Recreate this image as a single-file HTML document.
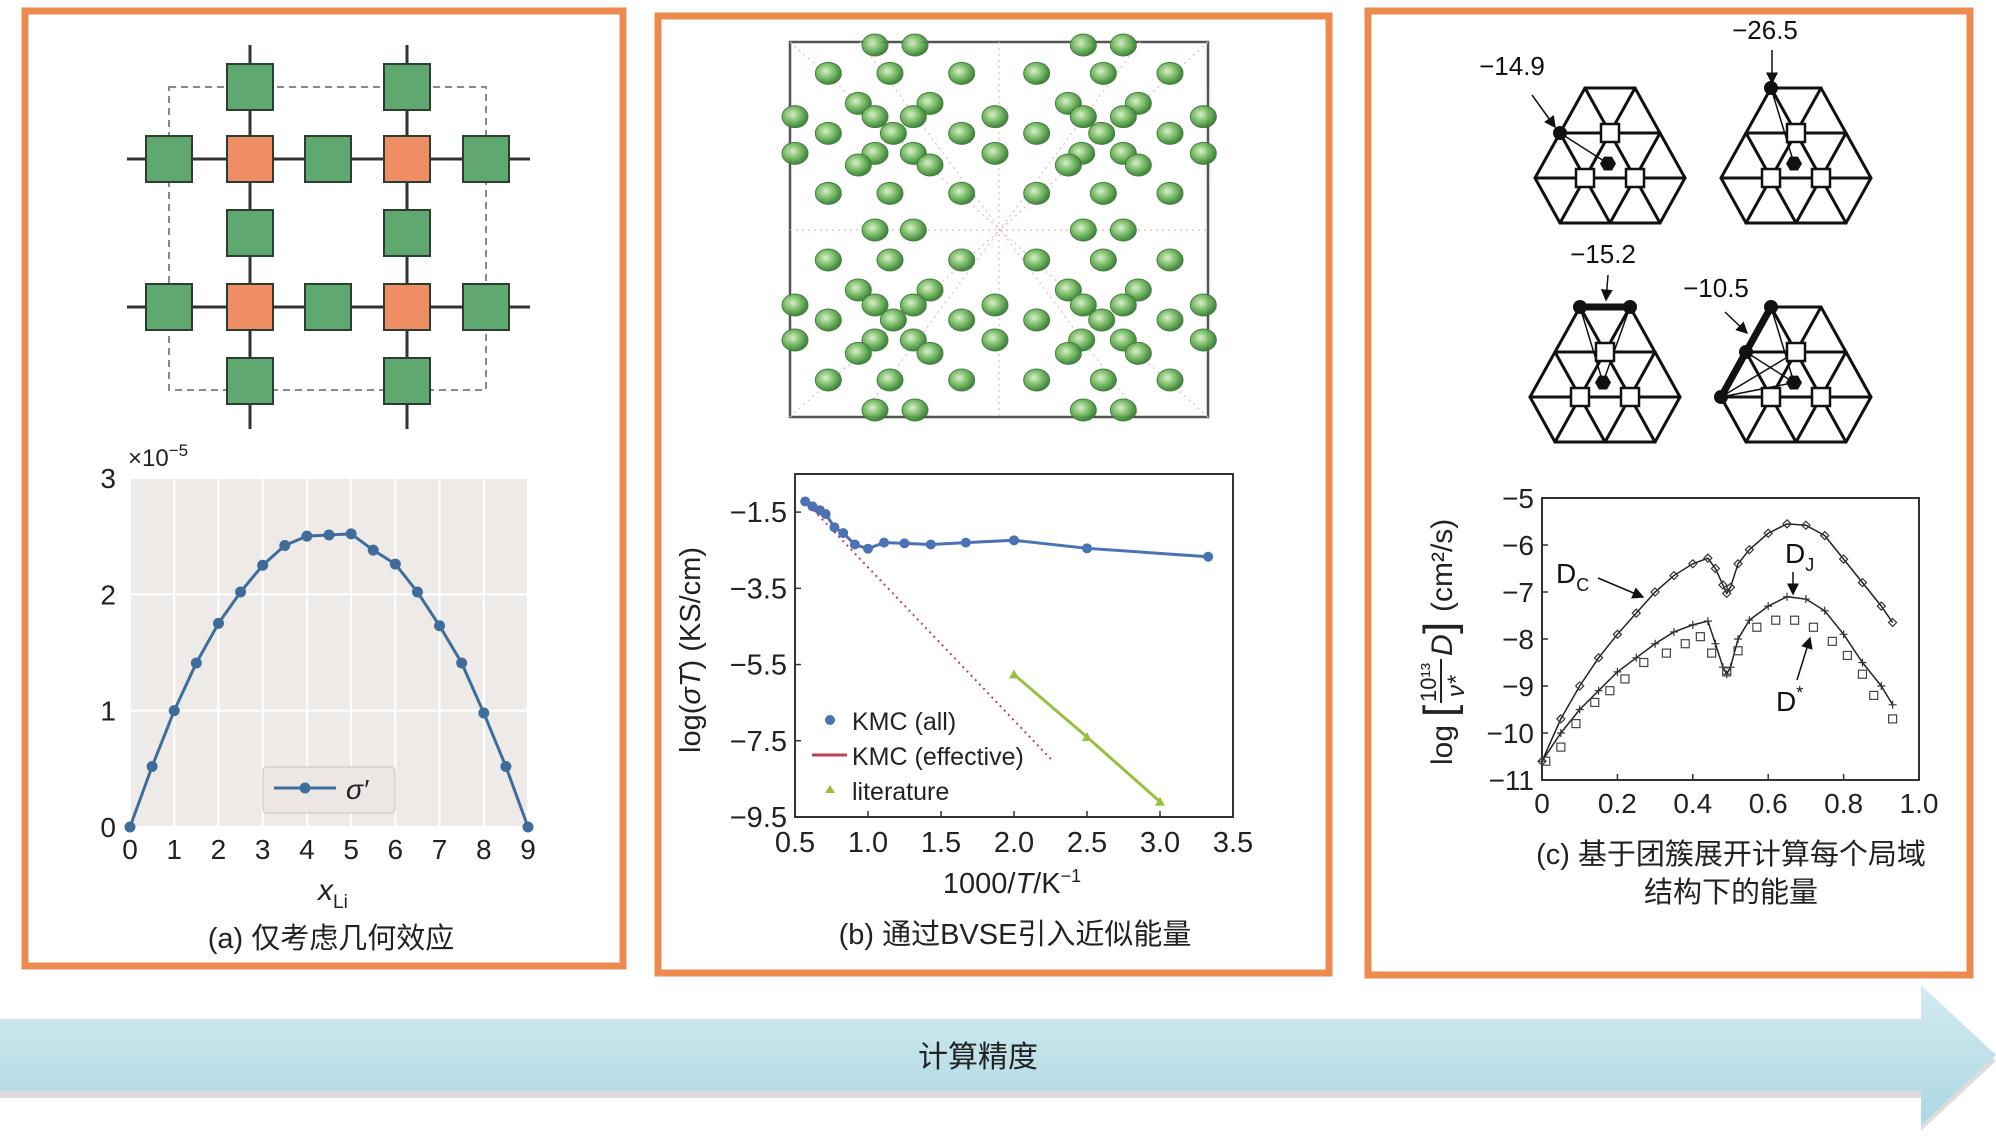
<!DOCTYPE html>
<html><head><meta charset="utf-8">
<style>
html,body{margin:0;padding:0;background:#fff;}
svg{display:block;}
text{font-family:"Liberation Sans","Noto Sans CJK SC",sans-serif;}
</style></head>
<body>
<svg id="root" width="1996" height="1138" viewBox="0 0 1996 1138" xmlns="http://www.w3.org/2000/svg">
<defs>
  <linearGradient id="band" x1="0" y1="0" x2="0" y2="1">
    <stop offset="0" stop-color="#d4ebf1"/><stop offset="1" stop-color="#acd7e2"/>
  </linearGradient>
  <radialGradient id="blob" cx="0.4" cy="0.4" r="0.6">
    <stop offset="0" stop-color="#d8efc8"/><stop offset="0.5" stop-color="#7dbd6a"/><stop offset="1" stop-color="#357f31"/>
  </radialGradient>
  <marker id="ah" markerWidth="8" markerHeight="8" refX="7" refY="4" orient="auto"><path d="M0,0 L8,4 L0,8 z" fill="#111"/></marker>
</defs>

<rect x="25" y="11" width="598" height="955" fill="none" stroke="#ec8a4f" stroke-width="7"/>
<rect x="658" y="16" width="671" height="957" fill="none" stroke="#ec8a4f" stroke-width="7"/>
<rect x="1368" y="11" width="602" height="964" fill="none" stroke="#ec8a4f" stroke-width="7"/>

<g>
  <path d="M0,1022 L1921,1022 L1921,987 L1996,1057 L1921,1127 L1921,1094 L0,1094 Z" fill="#9a9a9a" opacity="0.35" transform="translate(0,4)"/>
  <path d="M0,1019 L1921,1019 L1921,985 L1996,1055 L1921,1125 L1921,1091 L0,1091 Z" fill="url(#band)"/>
  <text x="978" y="1067" font-size="30" text-anchor="middle" fill="#222">计算精度</text>
</g>

<g id="lattice"></g>
<g id="chartA"></g>
<text x="331" y="948" font-size="29" text-anchor="middle" fill="#222">(a) 仅考虑几何效应</text>

<g id="struct"></g>
<g id="chartB"></g>
<text x="1015" y="944" font-size="29" text-anchor="middle" fill="#222">(b) 通过BVSE引入近似能量</text>

<g id="hexes"></g>
<g id="chartC"></g>
<text x="1731" y="864" font-size="29" text-anchor="middle" fill="#222">(c) 基于团簇展开计算每个局域</text>
<text x="1731" y="902" font-size="29" text-anchor="middle" fill="#222">结构下的能量</text>
</svg>

<script>
const aX = [0,0.5,1,1.5,2,2.5,3,3.5,4,4.5,5,5.5,6,6.5,7,7.5,8,8.5,9];
const aY = [0,0.52,1.0,1.41,1.75,2.02,2.25,2.42,2.50,2.51,2.52,2.38,2.26,2.02,1.73,1.41,0.98,0.52,0];
const aXTicks = [0,1,2,3,4,5,6,7,8,9];
const aYTicks = [0,1,2,3];
const bAllX = [0.57,0.62,0.67,0.71,0.77,0.83,0.91,1.0,1.11,1.25,1.43,1.67,2.0,2.5,3.33];
const bAllY = [-1.22,-1.35,-1.45,-1.55,-1.9,-2.05,-2.35,-2.46,-2.3,-2.32,-2.35,-2.3,-2.24,-2.45,-2.67];
const bEffX = [0.57,2.27];
const bEffY = [-1.22,-8.05];
const bLitX = [2.0,2.5,3.0];
const bLitY = [-5.76,-7.4,-9.1];
const bXTicks = [0.5,1.0,1.5,2.0,2.5,3.0,3.5];
const bYTicks = [-1.5,-3.5,-5.5,-7.5,-9.5];
const cX  = [0,0.05,0.1,0.15,0.2,0.25,0.3,0.35,0.4,0.44,0.46,0.48,0.49,0.5,0.52,0.55,0.6,0.65,0.7,0.75,0.8,0.85,0.9,0.93];
const cDc = [-10.6,-9.7,-9.0,-8.4,-7.9,-7.45,-7.0,-6.65,-6.4,-6.28,-6.5,-6.85,-7.03,-6.9,-6.4,-6.1,-5.75,-5.55,-5.58,-5.8,-6.3,-6.8,-7.3,-7.65];
const cDj = [-10.6,-10.0,-9.5,-9.1,-8.7,-8.4,-8.1,-7.85,-7.7,-7.62,-8.1,-8.6,-8.75,-8.6,-8.0,-7.6,-7.3,-7.1,-7.15,-7.4,-7.9,-8.5,-9.0,-9.4];
const sX  = [0.01,0.05,0.09,0.14,0.18,0.22,0.27,0.33,0.38,0.42,0.45,0.49,0.52,0.57,0.62,0.67,0.72,0.77,0.81,0.85,0.88,0.93];
const sY  = [-10.6,-10.3,-9.8,-9.35,-9.1,-8.85,-8.5,-8.3,-8.1,-7.95,-8.3,-8.7,-8.25,-7.75,-7.6,-7.6,-7.75,-8.05,-8.35,-8.75,-9.2,-9.7];
const cXTicks = [0,0.2,0.4,0.6,0.8,1.0];
const cXLabels = ['0','0.2','0.4','0.6','0.8','1.0'];
const cYTicks = [-5,-6,-7,-8,-9,-10,-11];

const NS = 'http://www.w3.org/2000/svg';
function mk(parent, tag, attrs, txt){
  const e = document.createElementNS(NS, tag);
  for (const k in attrs) e.setAttribute(k, attrs[k]);
  if (txt !== undefined) e.textContent = txt;
  parent.appendChild(e);
  return e;
}
function lin(d0,d1,r0,r1){ return v => r0 + (v-d0)/(d1-d0)*(r1-r0); }

(function(){
  const g = document.getElementById('lattice');
  let e = mk(g,'rect',{x:169,y:87,width:317,height:303,fill:'none',stroke:'#8a8a8a','stroke-width':2,'stroke-dasharray':'7,5'});
  
  
  [159,307].forEach(y=>{ mk(g,'line',{x1:127,y1:y,x2:530,y2:y,stroke:'#333','stroke-width':3}); });
  [250,407].forEach(x=>{ mk(g,'line',{x1:x,y1:45,x2:x,y2:429,stroke:'#333','stroke-width':3}); });
  const sq = [];
  const xs=[169,250,328,407,486];
  [159,307].forEach(y=>{ xs.forEach((x,i)=>{ sq.push([x, y, i%2===1?'#ef8e64':'#5fa86f']); }); });
  [87,233,381].forEach(y=>{ [250,407].forEach(x=>sq.push([x,y,'#5fa86f'])); });
  sq.forEach(s=>{
    const r = mk(g,'rect',{x:s[0]-23,y:s[1]-23,width:46,height:46,fill:s[2],stroke:'#2d3d30','stroke-width':2});
    
    
  });
})();

(function(){
  const g = document.getElementById('chartA');
  const L=130,R=528,T=478,B=827;
  const sx = lin(0,9,L,R), sy = lin(0,3,B,T);
  mk(g,'rect',{x:L,y:T,width:R-L,height:B-T,fill:'#eeeae7'});
  aXTicks.forEach(v=>{ mk(g,'line',{x1:sx(v),y1:T,x2:sx(v),y2:B,stroke:'#fff','stroke-width':2}); });
  aYTicks.forEach(v=>{ mk(g,'line',{x1:L,y1:sy(v),x2:R,y2:sy(v),stroke:'#fff','stroke-width':2}); });
  aXTicks.forEach(v=>{
    const t = mk(g,'text',{x:sx(v),y:B+32,'font-size':28,'text-anchor':'middle',fill:'#222'}, String(v));
    
    
  });
  aYTicks.forEach(v=>{
    const t = mk(g,'text',{x:L-14,y:sy(v)+10,'font-size':28,'text-anchor':'end',fill:'#222'}, String(v));
    
    
  });
  const m = mk(g,'text',{x:128,y:466,'font-size':24,fill:'#222'});
  
  
  m.innerHTML = '×10<tspan dy="-10" font-size="17">−5</tspan>';
  const xl = mk(g,'text',{x:318,y:900,'font-size':30,'font-style':'italic',fill:'#222'});
  
  
  xl.innerHTML = 'x<tspan dy="8" font-size="19" font-style="normal">Li</tspan>';
  const pts = aX.map((x,i)=>sx(x)+','+sy(aY[i])).join(' ');
  const pl = mk(g,'polyline',{points:pts,fill:'none',stroke:'#3f6d9b','stroke-width':3});
  
  
  aX.forEach((x,i)=>{
    const c = mk(g,'circle',{cx:sx(x),cy:sy(aY[i]),r:5.5,fill:'#3f6d9b'});
    
    
  });
  const lg = mk(g,'g',{});
  
  
  mk(lg,'rect',{x:263,y:767,width:132,height:46,rx:4,fill:'#ece6e4',stroke:'#d6cfcc','stroke-width':1.5});
  mk(lg,'line',{x1:274,y1:788,x2:336,y2:788,stroke:'#3f6d9b','stroke-width':3});
  mk(lg,'circle',{cx:305,cy:788,r:5.5,fill:'#3f6d9b'});
  mk(lg,'text',{x:346,y:799,'font-size':28,'font-style':'italic',fill:'#222'},"σ′");
})();

(function(){
  const g = document.getElementById('struct');
  mk(g,'rect',{x:790,y:42,width:418,height:375,fill:'#fff',stroke:'#555','stroke-width':2.5});
  const dl = [[790,42,1000,230],[1208,42,1000,230],[790,417,1000,230],[1208,417,1000,230],[860,42,1140,417],[1140,42,860,417],[790,230,1208,230],[999,42,999,417]];
  dl.forEach(d=>mk(g,'line',{x1:d[0],y1:d[1],x2:d[2],y2:d[3],stroke:'#e7b9b9','stroke-width':1.2,'stroke-dasharray':'2,4'}));
  const rows = [
    [45,[285,405,910,1030]],
    [130,[145,330,545,770,970,1170]],
    [220,[235,450,865,1075]],
    [260,[45,285,400,645,910,1030,1270]],
    [310,[145,340,545,770,965,1170]],
    [370,[45,285,400,645,905,1030,1270]],
    [405,[235,450,865,1075]],
    [490,[145,330,545,770,970,1170]],
    [600,[285,400,910,1030]],
    [690,[145,330,545,770,970,1170]],
    [780,[235,450,865,1075]],
    [825,[45,285,400,645,910,1030,1270]],
    [870,[145,340,545,770,965,1170]],
    [930,[45,285,400,645,905,1030,1270]],
    [970,[235,450,865,1075]],
    [1050,[145,330,545,770,970,1170]],
    [1140,[285,405,910,1030]]
  ];
  rows.forEach(r=>r[1].forEach(x=>{
    const e = mk(g,'ellipse',{cx:x/3+780,cy:r[0]/3+30,rx:13,ry:11,fill:'url(#blob)',stroke:'#3d7a38','stroke-width':1,opacity:0.95});
    
    
  }));
})();

(function(){
  const g = document.getElementById('chartB');
  const L=795,R=1233,T=474,B=817;
  const sx = lin(0.5,3.5,L,R), sy = lin(-9.5,-0.5,B,T);
  mk(g,'rect',{x:L,y:T,width:R-L,height:B-T,fill:'#fff',stroke:'#333','stroke-width':2});
  bXTicks.forEach(v=>{
    mk(g,'line',{x1:sx(v),y1:B,x2:sx(v),y2:B-6,stroke:'#333','stroke-width':1.5});
    const t = mk(g,'text',{x:sx(v),y:B+35,'font-size':29,'text-anchor':'middle',fill:'#222'}, v.toFixed(1));
    
    
  });
  bYTicks.forEach(v=>{
    mk(g,'line',{x1:L,y1:sy(v),x2:L+6,y2:sy(v),stroke:'#333','stroke-width':1.5});
    const t = mk(g,'text',{x:L-8,y:sy(v)+10,'font-size':29,'text-anchor':'end',fill:'#222'}, '−'+Math.abs(v).toFixed(1));
    
    
  });
  const yl = mk(g,'text',{x:0,y:0,'font-size':29,'text-anchor':'middle',fill:'#222',transform:'translate(700,650) rotate(-90)'});
  
  
  yl.innerHTML = 'log(<tspan font-style="italic">σT</tspan>) (KS/cm)';
  const xl = mk(g,'text',{x:1012,y:893,'font-size':29,'text-anchor':'middle',fill:'#222'});
  
  
  xl.innerHTML = '1000/<tspan font-style="italic">T</tspan>/K<tspan dy="-11" font-size="18">−1</tspan>';
  const eff = mk(g,'line',{x1:sx(bEffX[0]),y1:sy(bEffY[0]),x2:sx(bEffX[1]),y2:sy(bEffY[1]),stroke:'#c0405a','stroke-width':2,'stroke-dasharray':'2,4'});
  
  
  const pa = mk(g,'polyline',{points:bAllX.map((x,i)=>sx(x)+','+sy(bAllY[i])).join(' '),fill:'none',stroke:'#4a72b5','stroke-width':3});
  
  
  bAllX.forEach((x,i)=>{
    const c = mk(g,'circle',{cx:sx(x),cy:sy(bAllY[i]),r:5,fill:'#4a72b5'});
    
    
  });
  const lt = mk(g,'polyline',{points:bLitX.map((x,i)=>sx(x)+','+sy(bLitY[i])).join(' '),fill:'none',stroke:'#9abf3f','stroke-width':3});
  
  
  bLitX.forEach((x,i)=>{
    const px=sx(x), py=sy(bLitY[i]);
    const p = mk(g,'path',{d:`M${px},${py-5} L${px+5},${py+4} L${px-5},${py+4} Z`,fill:'#9abf3f'});
    
    
  });
  const lg = mk(g,'g',{});
  
  
  mk(lg,'circle',{cx:830,cy:720,r:5,fill:'#4a72b5'});
  mk(lg,'text',{x:852,y:730,'font-size':25,fill:'#222'},'KMC (all)');
  mk(lg,'line',{x1:812,y1:755,x2:847,y2:755,stroke:'#c0405a','stroke-width':3});
  mk(lg,'text',{x:852,y:765,'font-size':25,fill:'#222'},'KMC (effective)');
  mk(lg,'path',{d:'M830,785 L835,793 L825,793 Z',fill:'#9abf3f'});
  mk(lg,'text',{x:852,y:800,'font-size':25,fill:'#222'},'literature');
})();

(function(){
  const g = document.getElementById('hexes');
  const a=50, h=45;
  function hex(cx, ty, kind){
    const hg = mk(g,'g',{});
    
    
    const rows = [[-0.5,0.5],[-1,0,1],[-1.5,-0.5,0.5,1.5],[-1,0,1]];
    const P = rows.map((r,i)=>r.map(u=>[cx+u*a, ty+i*h]));
    const st = {stroke:'#111','stroke-width':3,'stroke-linecap':'round'};
    P.forEach(r=>mk(hg,'line',Object.assign({x1:r[0][0],y1:r[0][1],x2:r[r.length-1][0],y2:r[0][1]},st)));
    for(let i=0;i<3;i++){
      P[i].forEach(p=>P[i+1].forEach(q=>{ if(Math.abs(p[0]-q[0])<a*0.6) mk(hg,'line',Object.assign({x1:p[0],y1:p[1],x2:q[0],y2:q[1]},st)); }));
    }
    const sqs = [P[1][1],[cx-0.5*a,ty+2*h],[cx+0.5*a,ty+2*h]];
    const hx = [cx-2, ty+1.68*h];
    let dots = [];
    if(kind==='a') dots=[P[1][0]];
    if(kind==='b') dots=[P[0][0]];
    if(kind==='c') dots=[P[0][0],P[0][1]];
    if(kind==='d') dots=[P[0][0],P[1][0],P[2][0]];
    if(kind==='c') mk(hg,'line',{x1:P[0][0][0],y1:P[0][0][1],x2:P[0][1][0],y2:P[0][1][1],stroke:'#111','stroke-width':7});
    if(kind==='d') mk(hg,'line',{x1:P[0][0][0],y1:P[0][0][1],x2:P[2][0][0],y2:P[2][0][1],stroke:'#111','stroke-width':7});
    dots.forEach(d=>{
      mk(hg,'line',{x1:d[0],y1:d[1],x2:hx[0],y2:hx[1],stroke:'#111','stroke-width':1.5});
      mk(hg,'line',{x1:d[0],y1:d[1],x2:sqs[0][0],y2:sqs[0][1],stroke:'#111','stroke-width':1.5});
    });
    sqs.forEach(s=>mk(hg,'rect',{x:s[0]-9,y:s[1]-9,width:18,height:18,fill:'#fff',stroke:'#111','stroke-width':2.5}));
    const hp=[];for(let k=0;k<6;k++){const an=Math.PI/3*k;hp.push((hx[0]+8*Math.cos(an))+','+(hx[1]+8*Math.sin(an)));}
    mk(hg,'polygon',{points:hp.join(' '),fill:'#111'});
    dots.forEach(d=>mk(hg,'circle',{cx:d[0],cy:d[1],r:7,fill:'#111'}));
  }
  hex(1610,88,'a'); hex(1796,88,'b'); hex(1605,307,'c'); hex(1796,307,'d');
  const labels = [[1512,75,'−14.9',1532,95,1555,127],[1765,39,'−26.5',1772,50,1772,83],[1603,263,'−15.2',1608,275,1606,300],[1716,297,'−10.5',1725,312,1747,333]];
  labels.forEach(l=>{
    const t = mk(g,'text',{x:l[0],y:l[1],'font-size':26,'text-anchor':'middle',fill:'#111'}, l[2]);
    
    
    mk(g,'line',{x1:l[3],y1:l[4],x2:l[5],y2:l[6],stroke:'#111','stroke-width':1.5,'marker-end':'url(#ah)'});
  });
})();

(function(){
  const g = document.getElementById('chartC');
  const L=1542,R=1919,T=498,B=780;
  const sx = lin(0,1,L,R), sy = lin(-11,-5,B,T);
  mk(g,'rect',{x:L,y:T,width:R-L,height:B-T,fill:'#fff',stroke:'#333','stroke-width':2});
  cXTicks.forEach((v,i)=>{
    mk(g,'line',{x1:sx(v),y1:B,x2:sx(v),y2:B-6,stroke:'#333','stroke-width':1.5});
    const t = mk(g,'text',{x:sx(v),y:B+33,'font-size':28,'text-anchor':'middle',fill:'#222'}, cXLabels[i]);
    
    
  });
  cYTicks.forEach(v=>{
    mk(g,'line',{x1:L,y1:sy(v),x2:L+6,y2:sy(v),stroke:'#333','stroke-width':1.5});
    const t = mk(g,'text',{x:L-8,y:sy(v)+10,'font-size':28,'text-anchor':'end',fill:'#222'}, '−'+Math.abs(v));
    
    
  });
  const yl = mk(g,'g',{transform:'translate(1440,640) rotate(-90)'});
  
  
  mk(yl,'text',{x:-125,y:12,'font-size':30,fill:'#222'},'log');
  mk(yl,'text',{x:-77,y:14,'font-size':44,fill:'#222'},'[');
  mk(yl,'text',{x:-62,y:-4,'font-size':22,fill:'#222'},'10¹³');
  mk(yl,'line',{x1:-63,y1:1,x2:-19,y2:1,stroke:'#222','stroke-width':2});
  mk(yl,'text',{x:-57,y:24,'font-size':24,'font-style':'italic',fill:'#222'},'ν*');
  mk(yl,'text',{x:-16,y:12,'font-size':30,'font-style':'italic',fill:'#222'},'D');
  mk(yl,'text',{x:6,y:14,'font-size':44,fill:'#222'},']');
  mk(yl,'text',{x:28,y:12,'font-size':30,fill:'#222'},'(cm²/s)');

  const dc = mk(g,'polyline',{points:cX.map((x,i)=>sx(x)+','+sy(cDc[i])).join(' '),fill:'none',stroke:'#222','stroke-width':1.5});
  
  
  const dj = mk(g,'polyline',{points:cX.map((x,i)=>sx(x)+','+sy(cDj[i])).join(' '),fill:'none',stroke:'#222','stroke-width':1.5});
  
  
  cX.forEach((x,i)=>{
    const px=sx(x), py=sy(cDc[i]);
    const d = mk(g,'path',{d:`M${px},${py-4} L${px+4},${py} L${px},${py+4} L${px-4},${py} Z`,fill:'none',stroke:'#333','stroke-width':1.2});
    
    
    const qy=sy(cDj[i]);
    const p = mk(g,'path',{d:`M${px-4},${qy} L${px+4},${qy} M${px},${qy-4} L${px},${qy+4}`,stroke:'#333','stroke-width':1.2});
    
    
  });
  sX.forEach((x,i)=>{
    const s = mk(g,'rect',{x:sx(x)-4,y:sy(sY[i])-4,width:8,height:8,fill:'none',stroke:'#444','stroke-width':1.2});
    
    
  });
  // [textX, textY, main, sub, arrowStartX, arrowStartY, arrowEndX, arrowEndY]
  const lab = [[1556,583,'D','C',1598,578,1643,597],[1785,563,'D','J',1793,572,1793,594],[1776,711,'D','*',1797,680,1810,638]];
  lab.forEach(l=>{
    const t = mk(g,'text',{x:l[0],y:l[1],'font-size':28,fill:'#111'});
    
    
    t.innerHTML = l[2]+'<tspan dy="'+(l[3]==='*'?-12:8)+'" font-size="18">'+l[3]+'</tspan>';
    mk(g,'line',{x1:l[4],y1:l[5],x2:l[6],y2:l[7],stroke:'#111','stroke-width':1.5,'marker-end':'url(#ah)'});
  });
})();
</script>
</body></html>
